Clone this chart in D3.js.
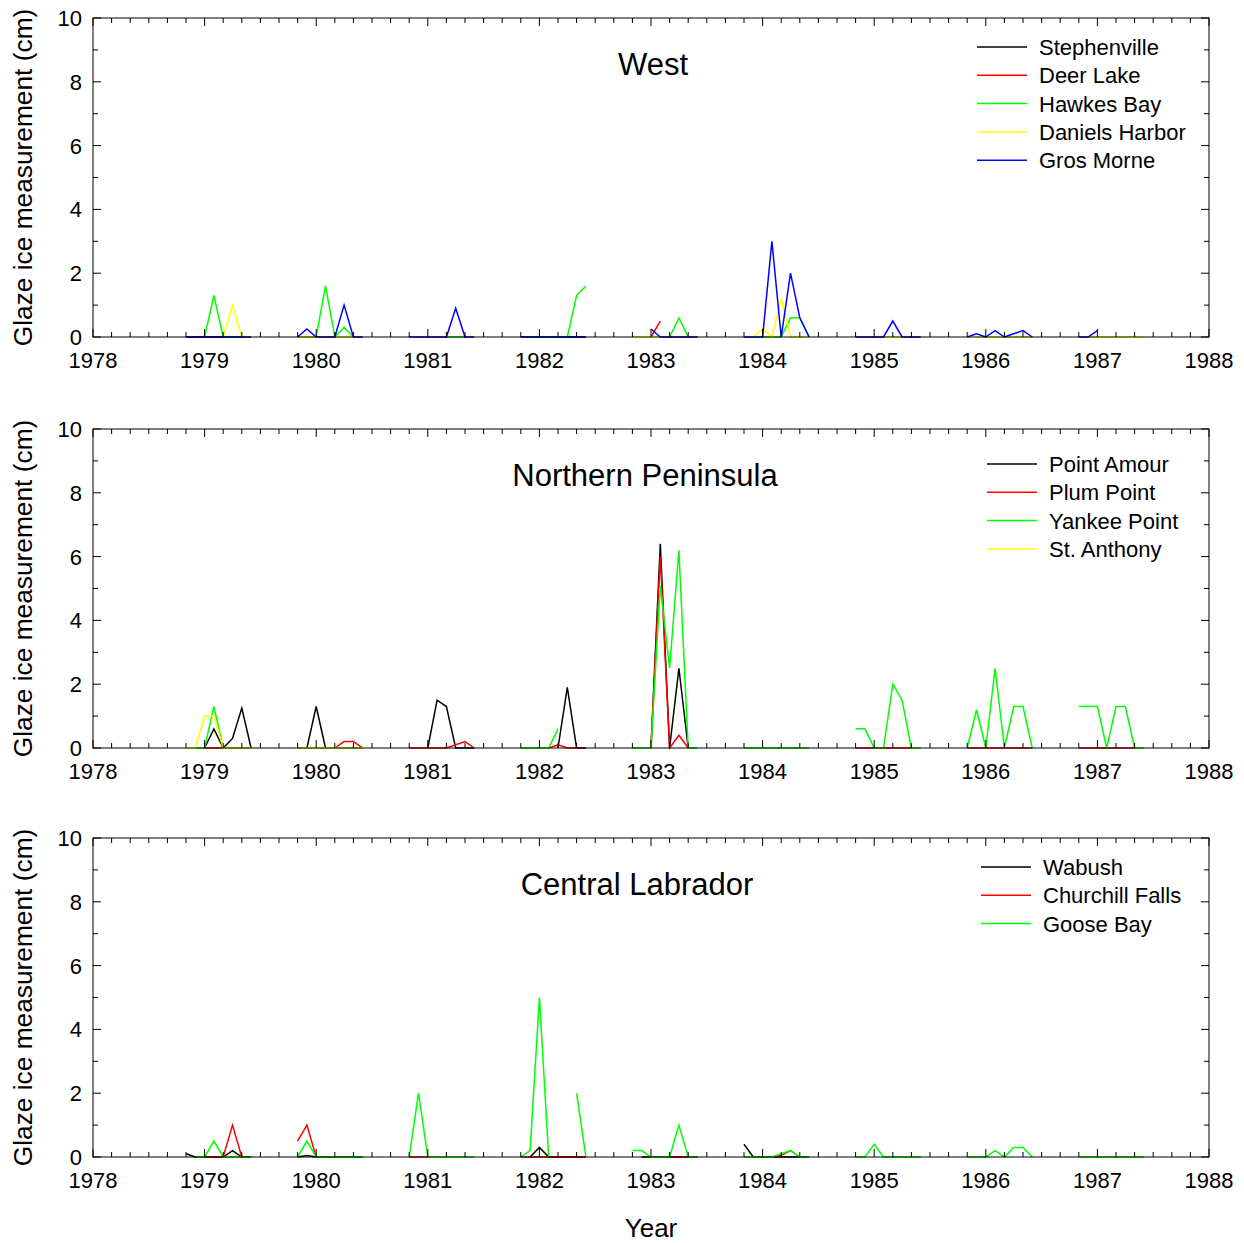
<!DOCTYPE html>
<html>
<head>
<meta charset="utf-8">
<script src="https://cdn.jsdelivr.net/npm/d3@7"></script>
<style>
  html, body { margin: 0; padding: 0; background: #fff; }
  svg { display: block; }
  text { font-family: "Liberation Sans", Arial, sans-serif; fill: #000; }
</style>
</head>
<body>
<svg id="chart" width="1244" height="1243"></svg>
<script>
// Winters (starting year) and the monthly readings taken in each winter.
const seasons = [1978, 1979, 1980, 1981, 1982, 1983, 1984, 1985, 1986];
const monthOffsets = [10, 11, 12, 13, 14, 15, 16, 17]; // months after Jan 1 of the starting year
const yearTicks = [1978, 1979, 1980, 1981, 1982, 1983, 1984, 1985, 1986, 1987, 1988];
const valueTicks = [0, 2, 4, 6, 8, 10];
const N = null;

// West
const stephenville = [[0,0,0,0,0,0,0,0], N, N, [0,0,0,0,0,0,0,0], N, N, N, N, N];
const deerLake = [N, N, N, N, [N,N,0,0.5,N,N,N,N], N, N, N, N];
const hawkesBay = [
  [N,N,0,1.3,0,0,0,0], [0,0,0,1.6,0,0.3,0,0], [N,N,N,N,0,0,0,N], [0,0,0,0,0,0,1.3,1.6],
  [N,N,N,N,0,0.6,0,0], [N,N,0,0,0,0.6,0.6,0], N, N, N];
const danielsHarbor = [
  [N,N,N,N,0,1.0,0,0], [0,0,0,0,0,0,0,0], N, N, [0,0,0,0,0,0,0,0],
  [N,0,0.25,0,1.2,0,0,0], [0,0,0,0,0,0,0,0], [N,0,0,0,0,0,0,0], [N,0,0,0,0,0,0,0]];
const grosMorne = [
  [0,0,0,0,0,0,0,0], [0,0.25,0,0,0,1.0,0,0], [0,0,0,0,0,0.9,0,0], [0,0,0,0,0,0,0,0],
  [N,N,0.25,0,0,0,0,0], [0,0,0,3.0,0,2.0,0.6,0], [0,0,0,0,0.5,0,0,0],
  [0,0.1,0,0.2,0,0.1,0.2,0], [0,0,0.2,N,N,N,N,N]];

// Northern Peninsula
const pointAmour = [
  [N,N,0,0.6,0,0.3,1.25,0], [0,0,1.3,0,0,0,0,0], [N,N,0,1.5,1.3,0,0,0],
  [N,N,N,N,0,1.9,0,0], [N,N,0,6.4,0,2.5,0,N], N, N, N, N];
const plumPoint = [
  [N,N,0,0,0,0,0,0], [N,N,N,N,0,0.2,0.2,0], [0,0,0,0,0,0.1,0.2,0],
  [N,N,N,0,0.1,0,0,0], [N,N,0,6.0,0,0.4,0,N], N,
  [0,0,0,0,0,0,0,N], [0,0,0,0,0,0,0,0], [0,0,0,0,0,0,0,N]];
const yankeePoint = [
  [N,0,0,1.3,0,0,0,0], [0,0,0,0,0,0,0,0], N, [0,0,0,0,0.6,N,N,N],
  [0,0,0,5.1,2.5,6.2,0,0], [0,0,0,0,0,0,0,0], [0.6,0.6,0,0,2.0,1.5,0,0],
  [0,1.2,0,2.5,0,1.3,1.3,0], [1.3,1.3,1.3,0,1.3,1.3,0,0]];
const stAnthony = [[0,0,1.0,1.0,0,0,0,0], [0,0,0,0,0,0,0,0], N, N, N, N, N, N, N];

// Central Labrador
const wabush = [
  [0.1,0,0,0,0,0.2,0,0], [0,0.05,0,0,0,0,0,0], N, [N,0,0.3,0,0,0,0,0],
  [N,0,0,0,0,0,0,0], [0.4,0,0,0,0,0,0,0], N, N, N];
const churchillFalls = [
  [N,N,0,0,0,1.0,0,0], [0.5,1.0,0,N,N,N,N,N], [0,0,0,N,N,N,N,N], [0,0,0,0,0,0,0,0],
  [N,N,N,N,0,0,0,N], [N,N,N,0,0.05,0.2,0,N], N, N, N];
const gooseBay = [
  [N,0,0,0.5,0,0,0,0], [0,0.5,0,0,0,0,0,0], [0,2.0,0,0,0,0,0,0], [0,0.2,5.0,0,N,N,2.0,0],
  [0.2,0.2,0,0,0,1.0,0,0], [0,0,0,0,0.1,0.2,0,0], [0,0,0.4,0,0,0,0,0],
  [0,0,0,0.2,0,0.3,0.3,0], [0,0,0,0,0,0,0,0]];

const panels = [
  { title: "West", top: 18, titleX: 653, legendX: 977, legendY: 47,
    series: [
      { name: "Stephenville", color: "#000000", data: stephenville },
      { name: "Deer Lake", color: "#ff0000", data: deerLake },
      { name: "Hawkes Bay", color: "#00ff00", data: hawkesBay },
      { name: "Daniels Harbor", color: "#ffff00", data: danielsHarbor },
      { name: "Gros Morne", color: "#0000ff", data: grosMorne }] },
  { title: "Northern Peninsula", top: 429, titleX: 645, legendX: 987, legendY: 464,
    series: [
      { name: "Point Amour", color: "#000000", data: pointAmour },
      { name: "Plum Point", color: "#ff0000", data: plumPoint },
      { name: "Yankee Point", color: "#00ff00", data: yankeePoint },
      { name: "St. Anthony", color: "#ffff00", data: stAnthony }] },
  { title: "Central Labrador", top: 838, titleX: 637, legendX: 981, legendY: 867,
    series: [
      { name: "Wabush", color: "#000000", data: wabush },
      { name: "Churchill Falls", color: "#ff0000", data: churchillFalls },
      { name: "Goose Bay", color: "#00ff00", data: gooseBay }] }
];

const svg = d3.select("#chart");
const left = 93, right = 1209, plotH = 319;

const x = d3.scaleLinear().domain([1978, 1988]).range([left, right]);

// Flatten a station's winters into one point list, with gaps between winters.
function toPoints(data) {
  const pts = [];
  data.forEach((vals, si) => {
    if (!vals) return;
    vals.forEach((v, mi) => pts.push({ t: seasons[si] + monthOffsets[mi] / 12, v }));
    pts.push({ t: null, v: null });
  });
  return pts;
}

const minorX = d3.range(0, 61).map(i => 1978 + i / 6);
const minorY = d3.range(0, 11);

panels.forEach(p => {
  const y = d3.scaleLinear().domain([0, 10]).range([p.top + plotH, p.top]);
  const g = svg.append("g");

  // Series
  const line = d3.line()
    .defined(d => d.v != null && d.t != null)
    .x(d => x(d.t)).y(d => y(d.v));
  p.series.forEach(s => {
    g.append("path")
      .attr("d", line(toPoints(s.data)))
      .attr("fill", "none")
      .attr("stroke", s.color)
      .attr("stroke-width", 1.5)
      .attr("stroke-linejoin", "miter");
  });

  // Frame
  g.append("rect")
    .attr("x", left).attr("y", p.top)
    .attr("width", right - left).attr("height", plotH)
    .attr("fill", "none").attr("stroke", "#000").attr("stroke-width", 1);

  // Inward ticks: bottom/top every two months, left/right every unit
  const tk = g.append("g").attr("stroke", "#000").attr("stroke-width", 1);
  minorX.forEach(t => {
    const major = Math.abs(t - Math.round(t)) < 1e-6;
    const len = major ? 8 : 5;
    tk.append("line").attr("x1", x(t)).attr("x2", x(t))
      .attr("y1", y(0)).attr("y2", y(0) - len);
    tk.append("line").attr("x1", x(t)).attr("x2", x(t))
      .attr("y1", y(10)).attr("y2", y(10) + len);
  });
  minorY.forEach(v => {
    const len = v % 2 === 0 ? 8 : 5;
    tk.append("line").attr("x1", left).attr("x2", left + len)
      .attr("y1", y(v)).attr("y2", y(v));
    tk.append("line").attr("x1", right).attr("x2", right - len)
      .attr("y1", y(v)).attr("y2", y(v));
  });

  // Tick labels
  g.selectAll(null).data(yearTicks).enter().append("text")
    .attr("x", d => x(d)).attr("y", y(0) + 31)
    .attr("text-anchor", "middle").attr("font-size", 22)
    .text(d => d);
  g.selectAll(null).data(valueTicks).enter().append("text")
    .attr("x", left - 11).attr("y", d => y(d) + 8)
    .attr("text-anchor", "end").attr("font-size", 22)
    .text(d => d);

  // Axis title
  g.append("text")
    .attr("transform", `translate(32,${p.top + plotH / 2}) rotate(-90)`)
    .attr("text-anchor", "middle").attr("font-size", 26.3)
    .text("Glaze ice measurement (cm)");

  // Panel title
  g.append("text")
    .attr("x", p.titleX).attr("y", p.top + 57)
    .attr("text-anchor", "middle").attr("font-size", 31)
    .text(p.title);

  // Legend
  p.series.forEach((s, i) => {
    const ly = p.legendY + i * 28.3;
    g.append("line")
      .attr("x1", p.legendX).attr("x2", p.legendX + 50)
      .attr("y1", ly).attr("y2", ly)
      .attr("stroke", s.color).attr("stroke-width", 1.5);
    g.append("text")
      .attr("x", p.legendX + 62).attr("y", ly + 8)
      .attr("font-size", 22)
      .text(s.name);
  });
});

svg.append("text")
  .attr("x", 651).attr("y", 1237)
  .attr("text-anchor", "middle").attr("font-size", 26)
  .text("Year");
</script>
</body>
</html>
